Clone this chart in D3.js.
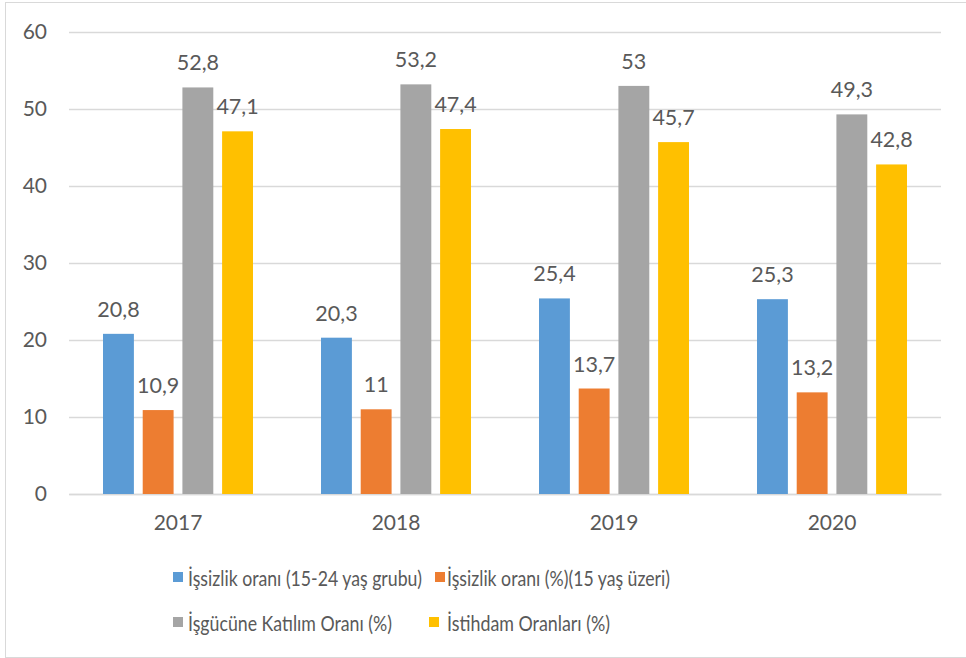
<!DOCTYPE html>
<html><head><meta charset="utf-8">
<script src="https://cdn.jsdelivr.net/npm/d3@7"></script>
<style>
html,body{margin:0;padding:0;background:#fff;}
svg{display:block;font-family:Lato, "Noto Sans", sans-serif;}
</style></head>
<body><svg id="c" width="966" height="658"></svg>
<script>
const years = ["2017", "2018", "2019", "2020"];
const seriesNames = ["İşsizlik oranı (15-24 yaş grubu)", "İşsizlik oranı (%)(15 yaş üzeri)", "İşgücüne Katılım Oranı (%)", "İstihdam Oranları (%)"];
const youthUnemployment = [20.8, 20.3, 25.4, 25.3];
const unemployment = [10.9, 11, 13.7, 13.2];
const participation = [52.8, 53.2, 53, 49.3];
const employment = [47.1, 47.4, 45.7, 42.8];
const yTicks = [0, 10, 20, 30, 40, 50, 60];
const colors = ["#5B9BD5", "#ED7D31", "#A5A5A5", "#FFC000"];

const seriesValues = [youthUnemployment, unemployment, participation, employment];
const svg = d3.select("#c");
const textColor = "#595959";

// border
svg.append("rect").attr("x", 5.5).attr("y", 2.5).attr("width", 980).attr("height", 655)
  .attr("fill", "none").attr("stroke", "#D9D9D9").attr("stroke-width", 1);

const pl = 69, pr = 941, pt = 32, pb = 494;
const y = d3.scaleLinear().domain([0, 60]).range([pb, pt]);
const x0 = d3.scaleBand().domain(years).range([pl, pr]).paddingInner(0.312).paddingOuter(0.156);
const x1 = d3.scaleBand().domain(d3.range(4)).range([0, x0.bandwidth()]).paddingInner(0.222).paddingOuter(0);

// gridlines
const yAxis = d3.axisLeft(y).tickValues(yTicks).tickSize(-(pr - pl)).tickPadding(22).tickFormat(d3.format("d"));
const ga = svg.append("g").attr("transform", `translate(${pl},0)`).call(yAxis);
ga.select(".domain").remove();
ga.selectAll(".tick line").attr("stroke", "#D9D9D9").attr("stroke-width", 1.3);
ga.selectAll(".tick text").attr("fill", textColor).style("font-size", "21px").style("font-family", "Lato, sans-serif");

// x axis
const xAxis = d3.axisBottom(x0).tickSize(0).tickPadding(21);
const gx = svg.append("g").attr("transform", `translate(0,${pb})`).call(xAxis);
gx.select(".domain").attr("stroke", "#D9D9D9").attr("stroke-width", 1.3);
gx.selectAll(".tick text").attr("fill", textColor).style("font-size", "21px").style("font-family", "Lato, sans-serif");

const fmt = v => String(v).replace(".", ",");

const groups = svg.append("g").selectAll("g").data(years).join("g")
  .attr("transform", d => `translate(${x0(d)},0)`);

groups.each(function(yr, i) {
  const g = d3.select(this);
  const d = seriesValues.map((s, k) => ({k, v: s[i]}));
  g.selectAll("rect").data(d).join("rect")
    .attr("x", e => x1(e.k)).attr("width", x1.bandwidth())
    .attr("y", e => y(e.v)).attr("height", e => y(0) - y(e.v))
    .attr("fill", e => colors[e.k]);
  g.selectAll("text").data(d).join("text")
    .attr("x", e => x1(e.k) + x1.bandwidth() / 2)
    .attr("y", e => y(e.v) - 17)
    .attr("text-anchor", "middle")
    .attr("fill", textColor).style("font-size", "21.5px")
    .text(e => fmt(e.v));
});

// legend
const legendPos = [[173, 586, 188], [435, 586, 447], [173, 631, 188], [429, 631, 447]];
const lg = svg.append("g").selectAll("g").data(seriesNames).join("g");
lg.append("rect").attr("x", (d, i) => legendPos[i][0]).attr("y", (d, i) => legendPos[i][1] - 14)
  .attr("width", 10).attr("height", 10).attr("fill", (d, i) => colors[i]);
lg.append("text").attr("x", (d, i) => legendPos[i][2]).attr("y", (d, i) => legendPos[i][1])
  .attr("fill", textColor).style("font-size", "21px")
  .attr("textLength", (d, i) => [234, 223, 204, 163][i]).attr("lengthAdjust", "spacingAndGlyphs")
  .text(d => d);
</script></body></html>
